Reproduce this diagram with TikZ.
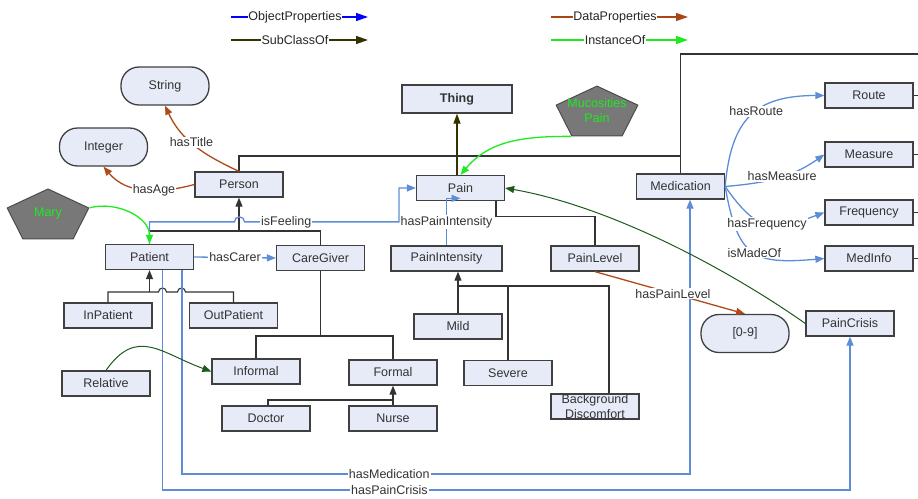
\documentclass[tikz,border=0pt]{standalone}
\usepackage{fontspec}
\setmainfont{Liberation Sans}
\usepackage{xcolor}
\usepackage{tikz}
\usetikzlibrary{shapes.geometric, arrows.meta, calc}

\definecolor{clsfill}{RGB}{230,235,247}
\definecolor{clsdraw}{RGB}{64,64,64}
\definecolor{objblue}{RGB}{92,141,214}
\definecolor{legblue}{RGB}{0,0,255}
\definecolor{databrown}{RGB}{176,74,26}
\definecolor{legbrown}{RGB}{170,70,20}
\definecolor{instgreen}{RGB}{30,235,30}
\definecolor{darkinst}{RGB}{30,90,30}
\definecolor{subolive}{RGB}{51,51,0}
\definecolor{indivgray}{RGB}{120,120,120}

\newcommand{\ontofont}{\fontsize{12.5}{15}\selectfont}

\begin{document}
\begin{tikzpicture}[
    x=1pt, y=1pt,
    % Class boxes
    cls/.style={rectangle, draw=clsdraw, line width=1.3pt, fill=clsfill,
                minimum width=88pt, minimum height=25pt, inner sep=1pt,
                align=center, font=\ontofont, text=black!80},
    % Literal / datatype boxes (rounded)
    literal/.style={cls, rounded corners=18pt, minimum height=38pt},
    % Individuals (grey pentagons)
    indiv/.style={regular polygon, regular polygon sides=5, draw=black!70,
                  line width=1pt, fill=indivgray, minimum size=55pt,
                  inner sep=0pt, transform shape},
    indivtext/.style={font=\ontofont, text=instgreen, align=center},
    % Hierarchy lines
    tree/.style={draw=black!80, line width=1.1pt},
    isa/.style={tree, -{Triangle[length=9pt,width=7pt]}},
    thingarrow/.style={draw=subolive, line width=1.3pt, -{Triangle[length=10pt,width=7pt]}},
    % Property arrows
    objprop/.style={draw=objblue, line width=1.3pt, -{Triangle[length=9pt,width=7pt]}},
    dataprop/.style={draw=databrown, line width=1.3pt, -{Triangle[length=9pt,width=7pt]}},
    instof/.style={draw=instgreen, line width=1.3pt, -{Triangle[length=9pt,width=7pt]}},
    darkinst/.style={draw=darkinst, line width=1pt, -{Triangle[length=9pt,width=7pt]}},
    lbl/.style={fill=white, inner sep=1pt, font=\ontofont, text=black!80},
    % Legend
    legline/.style={line width=1.4pt, -{Triangle[length=12pt,width=8pt]}},
    lgtxt/.style={fill=white, inner sep=0.5pt, font=\ontofont, text=black!85}
]
\useasboundingbox (0,0) rectangle (918,-498);

%-------- LEGEND --------
\coordinate (lgop) at (231,-17);
\coordinate (lgsub) at (231,-40);
\coordinate (lgdata) at (551,-17);
\coordinate (lginst) at (551,-40);
\draw[legline, draw=legblue, fill=legblue]   (lgop)   -- ++(137,0);
\draw[legline, draw=subolive, fill=subolive] (lgsub)  -- ++(137,0);
\draw[legline, draw=legbrown, fill=legbrown] (lgdata) -- ++(137,0);
\draw[legline, draw=instgreen, fill=instgreen] (lginst) -- ++(137,0);
\node[lgtxt] (lgoptxt)   at ($(lgop)+(64,0)$)   {ObjectProperties};
\node[lgtxt] (lgsubtxt)  at ($(lgsub)+(64,0)$)  {SubClassOf};
\node[lgtxt] (lgdatatxt) at ($(lgdata)+(64,0)$) {DataProperties};
\node[lgtxt] (lginsttxt) at ($(lginst)+(64,0)$) {InstanceOf};

%-------- CLASSES --------
\node[cls, minimum width=110pt, minimum height=28pt, font=\ontofont\bfseries] (thing) at (457,-99) {Thing};
\node[literal] (string)  at (165,-86)  {String};
\node[literal] (integer) at (103.5,-147) {Integer};
\node[cls] (person)     at (239,-184.5)   {Person};
\node[cls] (pain)       at (460.5,-188)   {Pain};
\node[cls] (medication) at (680.5,-186.5) {Medication};
\node[cls] (route)      at (869,-95.5)  {Route};
\node[cls] (measure)    at (869,-154.5) {Measure};
\node[cls] (frequency)  at (869,-212.5) {Frequency};
\node[cls] (medinfo)    at (869,-258.5) {MedInfo};

\node[cls] (patient)   at (149.5,-257) {Patient};
\node[cls] (caregiver) at (320.5,-258) {CareGiver};
\node[cls, minimum width=111pt] (pint) at (446.5,-258.5) {PainIntensity};
\node[cls] (plevel)    at (595,-258.5) {PainLevel};
\node[cls] (inpat)     at (108,-315.5)   {InPatient};
\node[cls] (outpat)    at (233.5,-315.5) {OutPatient};
\node[cls] (mild)      at (458,-326.5) {Mild};
\node[cls] (severe)    at (508,-373)   {Severe};
\node[cls, inner ysep=-1pt, font=\fontsize{12.5}{15.5}\selectfont] (backgr) at (595,-406.5) {Background\\Discomfort};
\node[literal] (range) at (745,-333.5) {[0-9]};
\node[cls] (paincrisis) at (850,-323.5) {PainCrisis};

\node[cls] (relative) at (106,-383.5) {Relative};
\node[cls] (informal) at (256,-371.5) {Informal};
\node[cls] (formal)   at (393,-372.5) {Formal};
\node[cls] (doctor)   at (266,-418.5) {Doctor};
\node[cls] (nurse)    at (393,-418.5) {Nurse};

%-------- INDIVIDUALS --------
\begin{scope}[shift={(48,-216.5)}, xscale=1.56]
  \node[indiv] (mary) at (0,0) {};
\end{scope}
\begin{scope}[shift={(597,-113.6)}, xscale=1.56]
  \node[indiv] (muco) at (0,0) {};
\end{scope}
\node[indivtext] (marytxt) at ([yshift=3pt]mary.center) {Mary};
\node[indivtext] (mucotxt) at ([yshift=3.5pt]muco.center) {Mucosities\\Pain};

%-------- HIERARCHY --------
\coordinate (thingj)   at (457,-156);
\coordinate (offtop)   at (918,-54);
\coordinate (personj)  at (239,-231);
\coordinate (patientj) at (149.5,-292);
\coordinate (carej)    at (320.5,-336);
\coordinate (formalj)  at (393,-400);
\coordinate (intj)     at (458,-286);

\draw[thingarrow] (pain.north -| thing.south) -- (thing.south);
\draw[tree] (person.north) |- (thingj) -| (medication.north);
\draw[tree] (medication.north) |- (offtop);
\foreach \n in {route,measure,frequency,medinfo}
    \draw[tree] (\n.east) -- (\n.east -| offtop);

\draw[isa]  (personj) -- (person.south);
\draw[tree] (patient.north) |- (personj) -| (caregiver.north);

\draw[isa]  (patientj) -- (patient.south);
\draw[tree] (inpat.north) |- (patientj) -- ++(9,0)
    arc[start angle=180, end angle=0, radius=4] -- ++(11,0)
    arc[start angle=180, end angle=0, radius=4] -| (outpat.north);

\draw[tree] (caregiver.south) -- (carej);
\draw[tree] (informal.north) |- (carej) -| (formal.north);

\draw[isa]  (formalj) -- (formal.south);
\draw[tree] ([xshift=2pt]doctor.north) |- (formalj) -- (nurse.north);

\draw[isa]  (mild.north) -- (mild.north |- pint.south);
\draw[tree] (intj) -| ([xshift=14pt]backgr.north);
\draw[tree] (severe.north) |- (intj);

\draw[tree] ([xshift=35.5pt]pain.south) |- ([yshift=29pt]plevel.north) -- (plevel.north);

%-------- DATA PROPERTIES --------
\draw[dataprop] (person.north) to[out=155, in=-65] coordinate[pos=0.55] (titlec) (string.south);
\draw[dataprop] (person.west) to[out=195, in=-50] coordinate[pos=0.4] (agec) (integer.south);
\draw[dataprop] (plevel.south) -- coordinate[pos=0.52] (levelc) (range.north);

%-------- OBJECT PROPERTIES --------
\coordinate (medcorner)    at (690,-474);
\coordinate (crisiscorner) at (850,-490);

\draw[objprop] (patient.north) -- ++(0,22) -- ++(85,0)
    arc[start angle=180, end angle=0, radius=5]
    -- coordinate[pos=0.27] (feelc) ++(154.5,0) |- (pain.west);
\draw[objprop] (pint.north) -- coordinate (intc) ++(0,47) -- ++(14,0);
\draw[objprop] (patient.east) -- coordinate (carerc) (caregiver.west);
\draw[objprop] ([xshift=32.5pt]patient.south) |- coordinate[pos=0.704] (medc) (medcorner)
    -- (medcorner |- medication.south);
\draw[objprop] ([xshift=13pt]patient.south) |- coordinate[pos=0.665] (crisisc) (crisiscorner)
    -- (paincrisis.south);

\draw[objprop] (medication.east) to[out=85, in=180, looseness=1.3]
    coordinate[pos=0.55] (routec) (route.west);
\draw[objprop] (medication.east) to[out=5, in=215]
    coordinate[pos=0.55] (measurec) (measure.west);
\draw[objprop] (medication.east) to[out=-55, in=200, looseness=1.4]
    coordinate[pos=0.5] (freqc) (frequency.west);
\draw[objprop] (medication.east) to[out=-80, in=185, looseness=1.5]
    coordinate[pos=0.52] (madec) (medinfo.west);

%-------- INSTANCES --------
\draw[instof] (mary.corner 5) to[out=15, in=90] (patient.north);
\draw[instof] (muco.corner 3) to[out=180, in=50] (pain.north);
\draw[darkinst] (relative.north) to[out=55, in=160, looseness=1.3] (informal.west);
\draw[darkinst] (paincrisis.west) to[out=145, in=-10, looseness=0.8] (pain.east);

%-------- PROPERTY LABELS --------
\node[lbl] (titlelbl)   at (titlec)   {hasTitle};
\node[lbl] (agelbl)     at (agec)     {hasAge};
\node[lbl] (levellbl)   at (levelc)   {hasPainLevel};
\node[lbl] (feellbl)    at (feelc)    {isFeeling};
\node[lbl] (intlbl)     at (intc)     {hasPainIntensity};
\node[lbl] (carerlbl)   at (carerc)   {hasCarer};
\node[lbl] (medlbl)     at (medc)     {hasMedication};
\node[lbl] (crisislbl)  at (crisisc)  {hasPainCrisis};
\node[lbl] (routelbl)   at (routec)   {hasRoute};
\node[lbl] (measurelbl) at (measurec) {hasMeasure};
\node[lbl] (freqlbl)    at (freqc)    {hasFrequency};
\node[lbl] (madelbl)    at (madec)    {isMadeOf};

\end{tikzpicture}
\end{document}
